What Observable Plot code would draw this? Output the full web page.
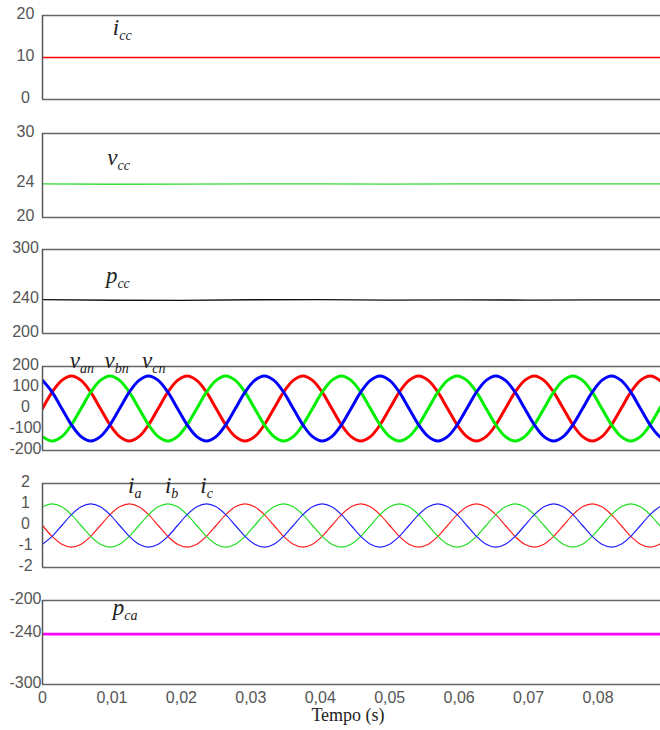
<!DOCTYPE html>
<html>
<head>
<meta charset="utf-8">
<script src="https://cdn.jsdelivr.net/npm/d3@7"></script>
<script src="https://cdn.jsdelivr.net/npm/@observablehq/plot@0.6"></script>
<style>
  body { margin: 0; background: #fff; }
  #wrap { position: relative; width: 660px; height: 730px; overflow: hidden; }
  #wrap > div { position: absolute; left: 0; }
</style>
</head>
<body>
<div id="wrap"></div>
<script>
// ---------- data ----------
const tWave = [0,0.001389,0.002778,0.004167,0.005556,0.006944,0.008333,0.009722,0.011111,0.0125,0.013889,0.015278,
0.016667,0.018056,0.019444,0.020833,0.022222,0.023611,0.025,0.026389,0.027778,0.029167,0.030556,0.031944,
0.033333,0.034722,0.036111,0.0375,0.038889,0.040278,0.041667,0.043056,0.044444,0.045833,0.047222,0.048611,
0.05,0.051389,0.052778,0.054167,0.055556,0.056944,0.058333,0.059722,0.061111,0.0625,0.063889,0.065278,
0.066667,0.068056,0.069444,0.070833,0.072222,0.073611,0.075,0.076389,0.077778,0.079167,0.080556,0.081944,
0.083333,0.084722,0.086111,0.0875,0.088889,0.090278];

const vAn = [0,78,134,155,134,78,0,-78,-134,-155,-134,-78,
0,78,134,155,134,78,0,-78,-134,-155,-134,-78,
0,78,134,155,134,78,0,-78,-134,-155,-134,-78,
0,78,134,155,134,78,0,-78,-134,-155,-134,-78,
0,78,134,155,134,78,0,-78,-134,-155,-134,-78,
0,78,134,155,134,78];
const vBn = [-134,-155,-134,-78,0,78,134,155,134,78,0,-78,
-134,-155,-134,-78,0,78,134,155,134,78,0,-78,
-134,-155,-134,-78,0,78,134,155,134,78,0,-78,
-134,-155,-134,-78,0,78,134,155,134,78,0,-78,
-134,-155,-134,-78,0,78,134,155,134,78,0,-78,
-134,-155,-134,-78,0,78];
const vCn = [134,78,0,-78,-134,-155,-134,-78,0,78,134,155,
134,78,0,-78,-134,-155,-134,-78,0,78,134,155,
134,78,0,-78,-134,-155,-134,-78,0,78,134,155,
134,78,0,-78,-134,-155,-134,-78,0,78,134,155,
134,78,0,-78,-134,-155,-134,-78,0,78,134,155,
134,78,0,-78,-134,-155];

const iA = [0,-0.52,-0.89,-1.03,-0.89,-0.52,0,0.52,0.89,1.03,0.89,0.52,
0,-0.52,-0.89,-1.03,-0.89,-0.52,0,0.52,0.89,1.03,0.89,0.52,
0,-0.52,-0.89,-1.03,-0.89,-0.52,0,0.52,0.89,1.03,0.89,0.52,
0,-0.52,-0.89,-1.03,-0.89,-0.52,0,0.52,0.89,1.03,0.89,0.52,
0,-0.52,-0.89,-1.03,-0.89,-0.52,0,0.52,0.89,1.03,0.89,0.52,
0,-0.52,-0.89,-1.03,-0.89,-0.52];
const iB = [0.89,1.03,0.89,0.52,0,-0.52,-0.89,-1.03,-0.89,-0.52,0,0.52,
0.89,1.03,0.89,0.52,0,-0.52,-0.89,-1.03,-0.89,-0.52,0,0.52,
0.89,1.03,0.89,0.52,0,-0.52,-0.89,-1.03,-0.89,-0.52,0,0.52,
0.89,1.03,0.89,0.52,0,-0.52,-0.89,-1.03,-0.89,-0.52,0,0.52,
0.89,1.03,0.89,0.52,0,-0.52,-0.89,-1.03,-0.89,-0.52,0,0.52,
0.89,1.03,0.89,0.52,0,-0.52];
const iC = [-0.89,-0.52,0,0.52,0.89,1.03,0.89,0.52,0,-0.52,-0.89,-1.03,
-0.89,-0.52,0,0.52,0.89,1.03,0.89,0.52,0,-0.52,-0.89,-1.03,
-0.89,-0.52,0,0.52,0.89,1.03,0.89,0.52,0,-0.52,-0.89,-1.03,
-0.89,-0.52,0,0.52,0.89,1.03,0.89,0.52,0,-0.52,-0.89,-1.03,
-0.89,-0.52,0,0.52,0.89,1.03,0.89,0.52,0,-0.52,-0.89,-1.03,
-0.89,-0.52,0,0.52,0.89,1.03];

const tDC = [0,0.01,0.02,0.03,0.04,0.05,0.06,0.07,0.08,0.089];
const iCC = [10,10,10,10,10,10,10,10,10,10];
const vCC = [24,23.96,23.97,24,24,23.98,24,24,24,24];
const pCC = [240.4,239.6,239.4,240.2,240.3,239.7,240,239.8,240,240];
const pCA = [-240,-240,-240,-240,-240,-240,-240,-240,-240,-240];

const xTicks = [0,0.01,0.02,0.03,0.04,0.05,0.06,0.07,0.08];
const xDomain = [0, 0.089];

// ---------- panels ----------
const panels = [
  {top: 5,   domain: [0, 20],     ticks: [0, 10, 20],
   series: [{t: tDC, v: iCC, stroke: "#ff0000", w: 1.5}],
   labels: [{t: 0.0102, v: 15.24, main: "i", sub: "cc"}]},
  {top: 123, domain: [20, 30],    ticks: [20, 24, 30],
   series: [{t: tDC, v: vCC, stroke: "#33dd33", w: 1.3}],
   labels: [{t: 0.0094, v: 26.2, main: "v", sub: "cc"}]},
  {top: 239, domain: [200, 300],  ticks: [200, 240, 300],
   series: [{t: tDC, v: pCC, stroke: "#111", w: 1.3}],
   labels: [{t: 0.0092, v: 259.5, main: "p", sub: "cc"}]},
  {top: 356, domain: [-200, 200], ticks: [-200, -100, 0, 100, 200],
   series: [{t: tWave, v: vAn, stroke: "#ff0000", w: 3, curve: true},
            {t: tWave, v: vBn, stroke: "#00ee00", w: 3, curve: true},
            {t: tWave, v: vCn, stroke: "#0000ff", w: 3, curve: true}],
   labels: [{t: 0.0040, v: 190.5, main: "v", sub: "an"},
            {t: 0.0090, v: 190.5, main: "v", sub: "bn"},
            {t: 0.0144, v: 190.5, main: "v", sub: "cn"}]},
  {top: 473, domain: [-2, 2],     ticks: [-2, -1, 0, 1, 2],
   series: [{t: tWave, v: iA, stroke: "#ff2020", w: 1.2, curve: true},
            {t: tWave, v: iB, stroke: "#20dd20", w: 1.2, curve: true},
            {t: tWave, v: iC, stroke: "#2020ff", w: 1.2, curve: true}],
   labels: [{t: 0.0124, v: 1.52, main: "i", sub: "a"},
            {t: 0.0177, v: 1.52, main: "i", sub: "b"},
            {t: 0.0228, v: 1.52, main: "i", sub: "c"}]},
  {top: 590, domain: [-300, -200], ticks: [-300, -240, -200],
   series: [{t: tDC, v: pCA, stroke: "#ff00ff", w: 2.6}],
   labels: [{t: 0.0102, v: -217.9, main: "p", sub: "ca"}], last: true}
];

const wrap = document.getElementById("wrap");

panels.forEach(p => {
  const marks = [];
  p.series.forEach(s => {
    const data = s.t.map((t, i) => ({t, v: s.v[i]}));
    marks.push(Plot.line(data, {x: "t", y: "v", stroke: s.stroke, strokeWidth: s.w,
      curve: s.curve ? "catmull-rom" : "linear", clip: true}));
  });
  marks.push(Plot.ruleY([p.domain[0], p.domain[1]], {stroke: "#666", strokeWidth: 1.5}));
  marks.push(Plot.ruleX([0], {stroke: "#555", strokeWidth: 1.5}));
  marks.push(Plot.axisY(p.ticks, {tickSize: 0, tickPadding: 17, textAnchor: "middle", dy: -2,
    fontSize: 16, tickFormat: d => String(d), label: null}));
  if (p.last) {
    marks.push(Plot.axisX(xTicks, {tickSize: 0, tickPadding: 7, fontSize: 16,
      tickFormat: d => d === 0 ? "0" : d.toFixed(2).replace(".", ","), label: null}));
  }
  const plot = Plot.plot({
    width: 660,
    height: p.last ? 140 : 104,
    marginLeft: 42, marginRight: 0, marginTop: 10, marginBottom: p.last ? 46 : 10,
    x: {domain: xDomain, axis: p.last ? undefined : null},
    y: {domain: p.domain},
    style: {fontFamily: "'Liberation Sans', Arial, sans-serif", color: "#555", background: "transparent", overflow: "visible"},
    marks
  });
  const sx = plot.scale("x"), sy = plot.scale("y");
  const svg = d3.select(plot);
  p.labels.forEach(l => {
    const txt = svg.append("text")
      .attr("x", sx.apply(l.t)).attr("y", sy.apply(l.v))
      .attr("text-anchor", "start")
      .attr("fill", "#222")
      .attr("font-family", "'Liberation Serif', 'Times New Roman', serif")
      .attr("font-style", "italic");
    txt.append("tspan").attr("font-size", 23).text(l.main);
    txt.append("tspan").attr("font-size", 14).attr("dy", 5).text(l.sub);
  });
  if (p.last) {
    svg.append("text")
      .attr("x", 348).attr("y", 131)
      .attr("text-anchor", "middle")
      .attr("fill", "#222")
      .attr("font-family", "'Liberation Serif', 'Times New Roman', serif")
      .attr("font-size", 18)
      .text("Tempo (s)");
  }
  const holder = document.createElement("div");
  holder.style.top = p.top + "px";
  holder.appendChild(plot);
  wrap.appendChild(holder);
});
</script>
</body>
</html>
